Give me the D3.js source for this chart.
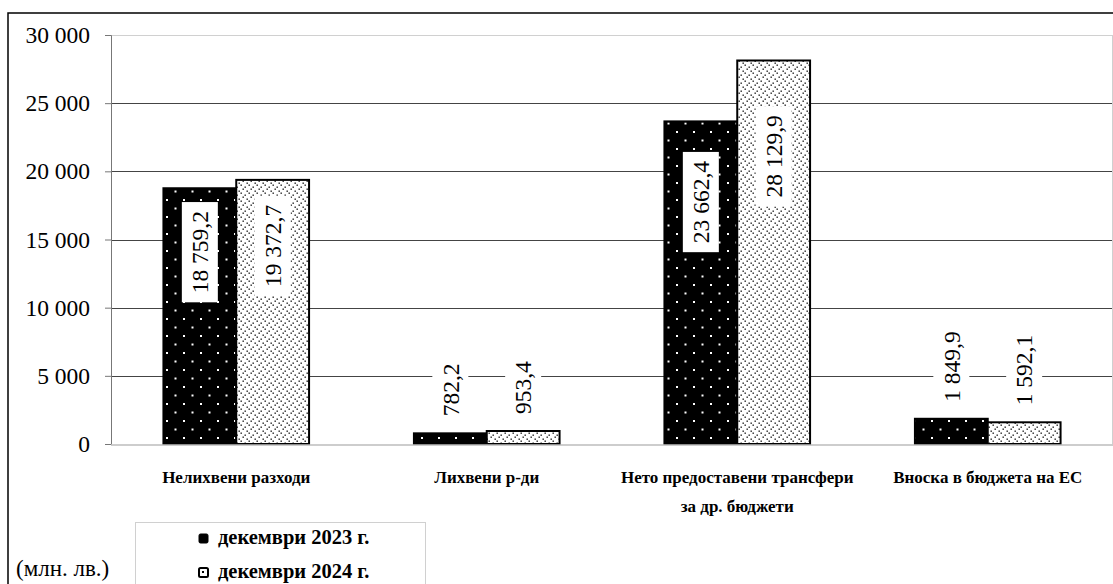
<!DOCTYPE html>
<html>
<head>
<meta charset="utf-8">
<script src="https://cdn.jsdelivr.net/npm/d3@7"></script>
<style>
  body { margin: 0; background: #fff; }
  svg { display: block; }
  svg text { font-family: "Liberation Serif", "Times New Roman", serif; }
</style>
</head>
<body>
<script>
// данни
var categories = [
    ["Нелихвени разходи"],
    ["Лихвени р-ди"],
    ["Нето предоставени трансфери", "за др. бюджети"],
    ["Вноска в бюджета на ЕС"]
];
var seriesNames = ["декември 2023 г.", "декември 2024 г."];
var values2023 = [18759.2, 782.2, 23662.4, 1849.9];
var values2024 = [19372.7, 953.4, 28129.9, 1592.1];
var yTicks = [0, 5000, 10000, 15000, 20000, 25000, 30000];
var unitLabel = "(млн. лв.)";

var width = 1113;
var height = 584;
var margen = { arriba: 35, abajo: 140, izquierda: 111, derecha: 0 };
var serif = "Liberation Serif";

var bg = d3.formatLocale({ decimal: ",", thousands: " ", grouping: [3], currency: ["", ""] });
var fmtTick = bg.format(",.0f");
var fmtVal = bg.format(",.1f");

var svg = d3.select("body").append("svg")
    .attr("width", width)
    .attr("height", height);

// шарки
var defs = svg.append("defs");
var p1 = defs.append("pattern").attr("id", "pat1")
    .attr("patternUnits", "userSpaceOnUse")
    .attr("width", 17).attr("height", 17)
    .attr("x", 166).attr("y", 386);
p1.append("rect").attr("width", 17).attr("height", 17).attr("fill", "#000");
p1.append("rect").attr("x", 0).attr("y", 0).attr("width", 2).attr("height", 2).attr("fill", "#fff");
p1.append("rect").attr("x", 8.5).attr("y", 8.5).attr("width", 2).attr("height", 2).attr("fill", "#fff");

var p2 = defs.append("pattern").attr("id", "pat2")
    .attr("patternUnits", "userSpaceOnUse")
    .attr("width", 8).attr("height", 8);
p2.append("rect").attr("width", 8).attr("height", 8).attr("fill", "#fff");
[[0.5, 0.5], [4.5, 2.5], [2.5, 4.5], [6.5, 6.5]].forEach(function (d) {
    p2.append("rect").attr("x", d[0]).attr("y", d[1]).attr("width", 1.4).attr("height", 1.4).attr("fill", "#222");
});

// рамка
svg.append("rect")
    .attr("x", 8).attr("y", 13)
    .attr("width", 1200).attr("height", 700)
    .attr("fill", "none").attr("stroke", "#000").attr("stroke-width", 1.5);

var escalaY = d3.scaleLinear()
    .domain([0, 30000])
    .range([444, margen.arriba]);

var escalaX = d3.scaleBand()
    .domain(d3.range(categories.length))
    .range([margen.izquierda, width - margen.derecha]);

var escalaSerie = d3.scaleBand()
    .domain([0, 1])
    .range([0, escalaX.bandwidth()])
    .paddingOuter(0.72);

// решетка
svg.append("g").selectAll("line")
    .data(yTicks.filter(function (d) { return d > 0; }))
    .join("line")
    .attr("x1", margen.izquierda).attr("x2", width)
    .attr("y1", function (d) { return Math.round(escalaY(d)) + 0.5; })
    .attr("y2", function (d) { return Math.round(escalaY(d)) + 0.5; })
    .attr("stroke", function (d) { return d === 30000 ? "#d0d0d0" : "#444"; })
    .attr("stroke-width", 1);

// дясна граница на графиката
svg.append("line")
    .attr("x1", width - 0.5).attr("x2", width - 0.5)
    .attr("y1", escalaY(30000)).attr("y2", escalaY(0))
    .attr("stroke", "#d0d0d0");

// ос Y
var ejeY = d3.axisLeft(escalaY).tickValues(yTicks).tickFormat(fmtTick).tickSize(6).tickPadding(15);
var gY = svg.append("g")
    .attr("transform", "translate(" + margen.izquierda + ",0)")
    .call(ejeY)
    .attr("font-family", serif);
gY.select(".domain").attr("stroke", "#777");
gY.selectAll(".tick line").attr("stroke", "#777");
gY.selectAll(".tick text")
    .attr("font-family", serif)
    .attr("font-size", 23.5)
    .attr("fill", "#000");

var series = [values2023, values2024];
var pats = ["url(#pat1)", "url(#pat2)"];

var datos = [];
series.forEach(function (vals, s) {
    vals.forEach(function (v, i) { datos.push({ s: s, i: i, v: v }); });
});

// стълбове
svg.append("g").selectAll("rect")
    .data(datos)
    .join("rect")
    .attr("x", function (d) { return escalaX(d.i) + escalaSerie(d.s); })
    .attr("y", function (d) { return escalaY(d.v); })
    .attr("width", escalaSerie.bandwidth())
    .attr("height", function (d) { return escalaY(0) - escalaY(d.v); })
    .attr("fill", function (d) { return pats[d.s]; })
    .attr("stroke", "#000")
    .attr("stroke-width", 2);

// ос X
svg.append("line")
    .attr("x1", margen.izquierda).attr("x2", width)
    .attr("y1", escalaY(0) + 1).attr("y2", escalaY(0) + 1)
    .attr("stroke", "#bdbdbd").attr("stroke-width", 1.5);

// етикети на стойностите
var gLab = svg.append("g");
datos.forEach(function (d) {
    var cx = escalaX(d.i) + escalaSerie(d.s) + escalaSerie.bandwidth() / 2;
    var g = gLab.append("g");
    var r = g.append("rect").attr("fill", "#fff");
    var t = g.append("text")
        .attr("transform", "rotate(-90)")
        .attr("text-anchor", "middle")
        .attr("dy", "0.35em")
        .attr("font-family", serif)
        .attr("font-size", 23.5)
        .text(fmtVal(d.v));
    var len = t.node().getComputedTextLength();
    var h = len + 18;
    var cy;
    if (d.v > 10000) {
        cy = escalaY(d.v * 0.75);
    } else {
        cy = escalaY(d.v) - 8 - h / 2;
    }
    g.attr("transform", "translate(" + cx + "," + cy + ")");
    r.attr("x", -18).attr("y", -h / 2).attr("width", 36).attr("height", h);
});

// категории
var gCat = svg.append("g");
categories.forEach(function (lines, i) {
    var t = gCat.append("text")
        .attr("x", escalaX(i) + escalaX.bandwidth() / 2)
        .attr("y", 483)
        .attr("text-anchor", "middle")
        .attr("font-family", serif)
        .attr("font-size", 17)
        .attr("font-weight", "bold");
    lines.forEach(function (ln, k) {
        t.append("tspan")
            .attr("x", escalaX(i) + escalaX.bandwidth() / 2)
            .attr("dy", k === 0 ? 0 : 29)
            .text(ln);
    });
});

// легенда
var leg = svg.append("g");
leg.append("rect")
    .attr("x", 135.5).attr("y", 522.5)
    .attr("width", 290).attr("height", 100)
    .attr("fill", "#fff").attr("stroke", "#d0d0d0");
seriesNames.forEach(function (n, s) {
    var y = 544 + s * 34;
    leg.append("rect")
        .attr("x", 199).attr("y", y - 10)
        .attr("width", 9).attr("height", 9)
        .attr("rx", 1.5)
        .attr("fill", s === 0 ? "#000" : "#fff")
        .attr("stroke", "#000")
        .attr("stroke-width", s === 0 ? 1 : 2);
    if (s === 1) {
        leg.append("rect").attr("x", 202).attr("y", y - 7).attr("width", 2).attr("height", 2).attr("fill", "#000");
    }
    leg.append("text")
        .attr("x", 218).attr("y", y)
        .attr("font-family", serif)
        .attr("font-size", 20.5)
        .attr("font-weight", "bold")
        .text(n);
});

svg.append("text")
    .attr("x", 16).attr("y", 576)
    .attr("font-family", serif)
    .attr("font-size", 23)
    .text(unitLabel);
</script>
</body>
</html>
